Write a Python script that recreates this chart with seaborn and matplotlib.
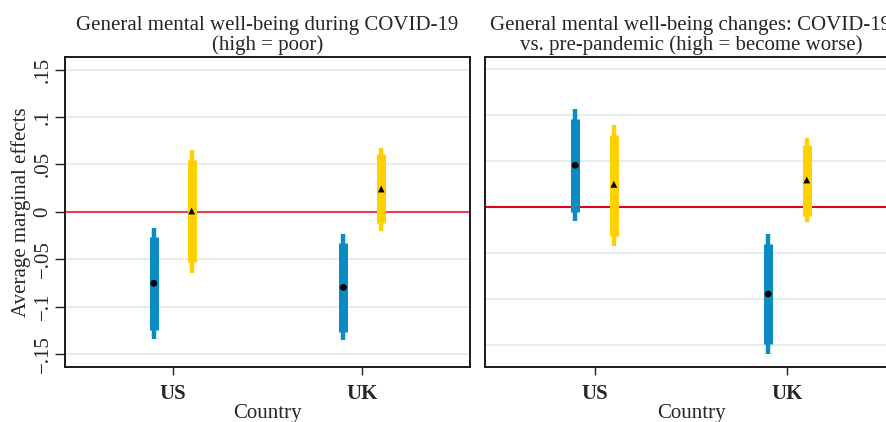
import numpy as np
import pandas as pd
import seaborn as sns
import matplotlib
matplotlib.use("Agg")
import matplotlib.pyplot as plt

# Average marginal effects with 90% (thick) and 95% (thin) confidence intervals
countries = ["US", "UK"]
groups = ["blue", "yellow"]

# Panel 1: mental well-being during COVID-19
p1_est = [-0.0755, 0.0007, -0.0798, 0.0239]
p1_lo90 = [-0.1248, -0.0534, -0.1266, -0.0123]
p1_hi90 = [-0.0264, 0.0545, -0.0334, 0.0605]
p1_lo95 = [-0.1343, -0.0643, -0.1353, -0.0200]
p1_hi95 = [-0.0169, 0.0650, -0.0239, 0.0675]

# Panel 2: change versus pre-pandemic
p2_est = [0.0457, 0.0250, -0.0942, 0.0297]
p2_lo90 = [-0.0048, -0.0309, -0.1486, -0.0095]
p2_hi90 = [0.0960, 0.0789, -0.0396, 0.0677]
p2_lo95 = [-0.0149, -0.0417, -0.1595, -0.0163]
p2_hi95 = [0.1065, 0.0895, -0.0290, 0.0750]

yticks = [-0.15, -0.1, -0.05, 0, 0.05, 0.1, 0.15]
ytick_labels = ["\u2212.15", "\u2212.1", "\u2212.05", "0", ".05", ".1", ".15"]

sns.set_theme(style="white")
plt.rcParams["font.family"] = ["Liberation Serif", "DejaVu Serif"]

BLUE = "#0a8cc2"
YELLOW = "#ffd100"
GRID = "#e4edf2"
FS = 15


def make_frame(est, lo90, hi90, lo95, hi95):
    rows = []
    i = 0
    for c_idx, c in enumerate(countries):
        for g in groups:
            rows.append(dict(country=c, group=g,
                             x=c_idx + 1 + (-0.1 if g == "blue" else 0.1),
                             est=est[i], lo90=lo90[i], hi90=hi90[i],
                             lo95=lo95[i], hi95=hi95[i]))
            i += 1
    return pd.DataFrame(rows)


def draw_panel(ax, df, ylim, zero_color, show_y):
    ax.set_xlim(0.432, 2.568)
    ax.set_ylim(*ylim)
    for y in yticks:
        ax.axhline(y, color=GRID, lw=1.4, zorder=0)
    ax.axhline(0, color=zero_color, lw=1.5, zorder=1)
    pal = {"blue": BLUE, "yellow": YELLOW}
    for _, r in df.iterrows():
        col = pal[r["group"]]
        ax.vlines(r["x"], r["lo95"], r["hi95"], color=col, lw=3.2, zorder=2)
        ax.vlines(r["x"], r["lo90"], r["hi90"], color=col, lw=6.5, zorder=3)
    sns.scatterplot(data=df, x="x", y="est", style="group",
                    markers={"blue": "o", "yellow": "^"},
                    color="black", s=24, edgecolor="none", ax=ax,
                    legend=False, zorder=4)
    ax.set_xticks([1, 2])
    ax.set_xticklabels(countries, fontweight="bold", fontsize=FS)
    ax.set_xlabel("Country", fontsize=FS, labelpad=0)
    ax.tick_params(axis="x", length=6, width=1, color="#222222", pad=6,
                   bottom=True)
    if show_y:
        ax.set_yticks(yticks)
        ax.set_yticklabels(ytick_labels, rotation=90, va="center",
                           fontsize=FS)
        ax.tick_params(axis="y", length=7, width=1, color="#222222",
                       left=True, pad=2)
        ax.set_ylabel("Average marginal effects", fontsize=FS, labelpad=2)
    else:
        ax.set_yticks([])
        ax.set_ylabel("")
    for s in ax.spines.values():
        s.set_color("#1a1a1a")
        s.set_linewidth(1.4)
    ax.grid(False)


fig = plt.figure(figsize=(8.87, 4.22), dpi=100)
W, H = 887, 422
ax1 = fig.add_axes([65 / W, 1 - 367 / H, 405 / W, 310 / H])
ax2 = fig.add_axes([485 / W, 1 - 367 / H, 412 / W, 310 / H])

draw_panel(ax1, make_frame(p1_est, p1_lo90, p1_hi90, p1_lo95, p1_hi95),
           (-0.1638, 0.1632), "#e8405a", True)
draw_panel(ax2, make_frame(p2_est, p2_lo90, p2_hi90, p2_lo95, p2_hi95),
           (-0.1736, 0.1634), "#e2001a", False)

ax1.set_title("General mental well-being during COVID-19\n(high = poor)",
              fontsize=FS, linespacing=1.0, pad=5)
ax2.set_title("General mental well-being changes: COVID-19\n"
              "vs. pre-pandemic (high = become worse)",
              fontsize=FS, linespacing=1.0, pad=5)

fig.savefig("out.png", dpi=100, facecolor="white")
